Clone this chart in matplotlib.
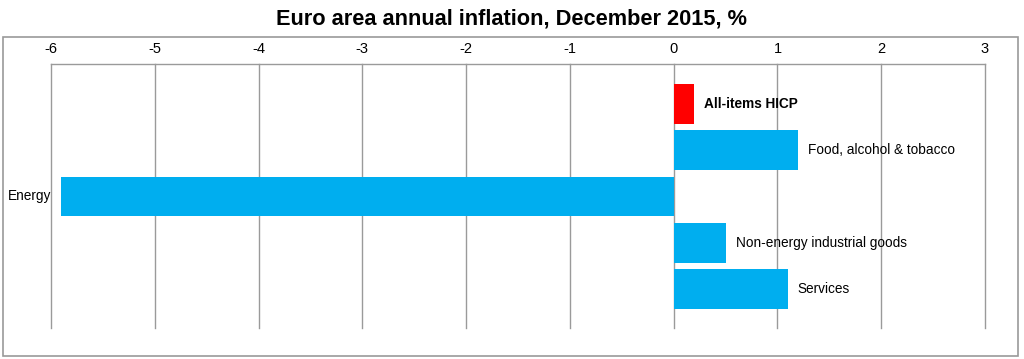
import matplotlib
matplotlib.use("Agg")
import matplotlib.pyplot as plt
from matplotlib.patches import Rectangle

categories = ["All-items HICP", "Food, alcohol & tobacco", "Energy",
              "Non-energy industrial goods", "Services"]
values = [0.2, 1.2, -5.9, 0.5, 1.1]
colors = ["#FF0000", "#00AEEF", "#00AEEF", "#00AEEF", "#00AEEF"]
xticks = [-6, -5, -4, -3, -2, -1, 0, 1, 2, 3]
title = "Euro area annual inflation, December 2015, %"

plt.rcParams['font.family'] = ['Liberation Sans', 'DejaVu Sans']

fig = plt.figure(figsize=(10.24, 3.59), dpi=100)
ax = fig.add_axes([51/1024, 1-328/359, (985-51)/1024, (328-64)/359])

# outer frame
fig.patches.append(Rectangle((3/1024, 1-356/359), (1018-3)/1024, (356-37)/359,
                             transform=fig.transFigure, fill=False,
                             edgecolor="#9a9a9a", linewidth=1.2, zorder=0))

ypos = list(range(len(categories)))
ax.barh(ypos, values, height=0.86, color=colors, zorder=3)

ax.set_xlim(-6, 3)
ax.set_ylim(4.84, -0.86)
ax.set_xticks(xticks)
ax.set_xticklabels([str(t) for t in xticks], fontsize=10.5)
ax.xaxis.tick_top()
ax.tick_params(axis='x', length=0, pad=6)
ax.set_yticks([])
ax.grid(axis='x', color="#9a9a9a", linewidth=1.0, zorder=1)
for gl in ax.get_xgridlines():
    gl.set_clip_on(False)
for s in ["left", "right", "bottom"]:
    ax.spines[s].set_visible(False)
ax.spines["top"].set_color("#9a9a9a")
ax.spines["top"].set_linewidth(1.0)

for i, (c, v) in enumerate(zip(categories, values)):
    off = 7.2 if v >= 0 else -7.2
    ax.annotate(c, (v, i), xytext=(off, 0), textcoords="offset points",
                ha="left" if v >= 0 else "right", va="center",
                fontsize=9.8, fontweight="bold" if i == 0 else "normal",
                zorder=4)

fig.text(0.5, 1-19/359, title, ha="center", va="center",
         fontsize=15.7, fontweight="bold")

fig.savefig("out.png", dpi=100)
